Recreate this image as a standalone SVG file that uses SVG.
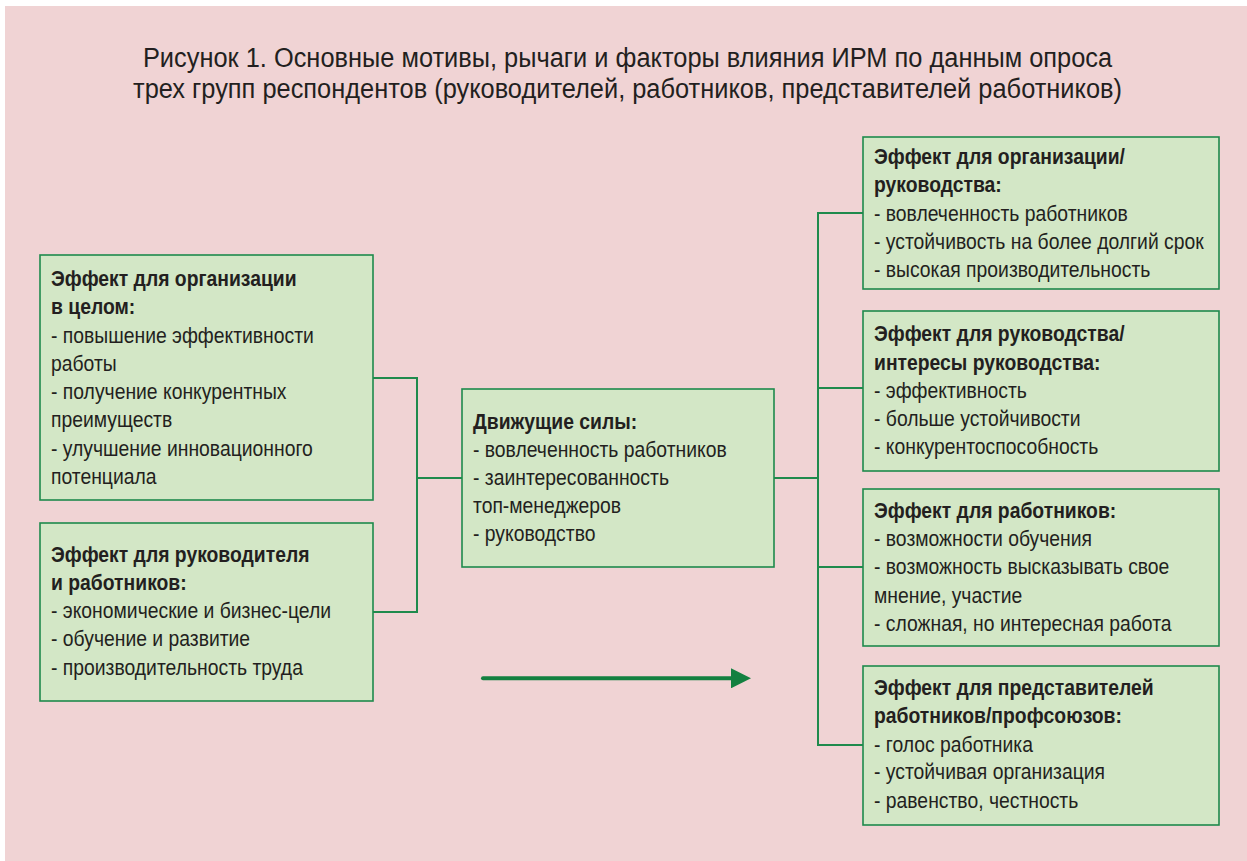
<svg xmlns="http://www.w3.org/2000/svg" width="1247" height="861" viewBox="0 0 1247 861">
<style>
  .bg { fill: #F0D3D4; }
  .box { fill: #D3E7C6; stroke: #1F8A4C; stroke-width: 1.6; }
  .conn { fill: none; stroke: #1F8A4C; stroke-width: 2; }
  text { font-family: "Liberation Sans", Arial, sans-serif; fill: #231F20; }
  .title { font-size: 28px; text-anchor: middle; }
  .t { font-size: 22.5px; }
  .h { font-size: 22.5px; font-weight: bold; }
</style>
<defs>
  <marker id="ah" viewBox="0 0 10 10" refX="0" refY="5" markerWidth="5" markerHeight="5" orient="auto" markerUnits="strokeWidth">
    <path d="M0,0 L10,5 L0,10 Z" fill="#138040"/>
  </marker>
</defs>
<rect width="1247" height="861" fill="#FFFFFF"/>
<rect class="bg" x="5" y="6" width="1242" height="855"/>

<g id="title" transform="translate(627.5,0) scale(0.907,1)">
  <text class="title" x="0" y="67">Рисунок 1. Основные мотивы, рычаги и факторы влияния ИРМ по данным опроса</text>
  <text class="title" x="0" y="98">трех групп респондентов (руководителей, работников, представителей работников)</text>
</g>

<g id="connectors">
  <path class="conn" d="M373,378 H417 V612 H373"/>
  <path class="conn" d="M417,478 H462"/>
  <path class="conn" d="M774,478 H818"/>
  <path class="conn" d="M863,213 H818 V745 H863"/>
  <path class="conn" d="M818,388 H863"/>
  <path class="conn" d="M818,567 H863"/>
  <line x1="483" y1="678.3" x2="731" y2="678.3" stroke="#138040" stroke-width="4" stroke-linecap="round" marker-end="url(#ah)"/>
</g>

<g id="left-org">
  <rect class="box" x="40" y="255" width="333" height="245"/>
  <g transform="translate(51,0) scale(0.86,1)">
    <text class="h" x="0" y="286">Эффект для организации</text>
    <text class="h" x="0" y="314.3">в целом:</text>
    <text class="t" x="0" y="342.6">- повышение эффективности</text>
    <text class="t" x="0" y="370.9">работы</text>
    <text class="t" x="0" y="399.2">- получение конкурентных</text>
    <text class="t" x="0" y="427.5">преимуществ</text>
    <text class="t" x="0" y="455.8">- улучшение инновационного</text>
    <text class="t" x="0" y="484.1">потенциала</text>
  </g>
</g>

<g id="left-mgr">
  <rect class="box" x="40" y="523" width="333" height="178"/>
  <g transform="translate(51,0) scale(0.86,1)">
    <text class="h" x="0" y="562">Эффект для руководителя</text>
    <text class="h" x="0" y="590">и работников:</text>
    <text class="t" x="0" y="618.3">- экономические и бизнес-цели</text>
    <text class="t" x="0" y="646.5">- обучение и развитие</text>
    <text class="t" x="0" y="674.7">- производительность труда</text>
  </g>
</g>

<g id="center">
  <rect class="box" x="462" y="389" width="312" height="178"/>
  <g transform="translate(473,0) scale(0.86,1)">
    <text class="h" x="0" y="429">Движущие силы:</text>
    <text class="t" x="0" y="457">- вовлеченность работников</text>
    <text class="t" x="0" y="485">- заинтересованность</text>
    <text class="t" x="0" y="513">топ-менеджеров</text>
    <text class="t" x="0" y="541.5">- руководство</text>
  </g>
</g>

<g id="right-org">
  <rect class="box" x="863" y="137" width="356" height="152"/>
  <g transform="translate(874,0) scale(0.86,1)">
    <text class="h" x="0" y="164">Эффект для организации/</text>
    <text class="h" x="0" y="192.5">руководства:</text>
    <text class="t" x="0" y="220.7">- вовлеченность работников</text>
    <text class="t" x="0" y="249">- устойчивость на более долгий срок</text>
    <text class="t" x="0" y="277">- высокая производительность</text>
  </g>
</g>

<g id="right-mgmt">
  <rect class="box" x="863" y="311" width="356" height="160"/>
  <g transform="translate(874,0) scale(0.86,1)">
    <text class="h" x="0" y="341.5">Эффект для руководства/</text>
    <text class="h" x="0" y="370">интересы руководства:</text>
    <text class="t" x="0" y="398.3">- эффективность</text>
    <text class="t" x="0" y="426.3">- больше устойчивости</text>
    <text class="t" x="0" y="454.3">- конкурентоспособность</text>
  </g>
</g>

<g id="right-workers">
  <rect class="box" x="863" y="489" width="356" height="157"/>
  <g transform="translate(874,0) scale(0.86,1)">
    <text class="h" x="0" y="517.7">Эффект для работников:</text>
    <text class="t" x="0" y="546">- возможности обучения</text>
    <text class="t" x="0" y="574.3">- возможность высказывать свое</text>
    <text class="t" x="0" y="602.7">мнение, участие</text>
    <text class="t" x="0" y="631">- сложная, но интересная работа</text>
  </g>
</g>

<g id="right-unions">
  <rect class="box" x="863" y="666" width="356" height="159"/>
  <g transform="translate(874,0) scale(0.86,1)">
    <text class="h" x="0" y="695">Эффект для представителей</text>
    <text class="h" x="0" y="723.3">работников/профсоюзов:</text>
    <text class="t" x="0" y="751.7">- голос работника</text>
    <text class="t" x="0" y="779.5">- устойчивая организация</text>
    <text class="t" x="0" y="807.7">- равенство, честность</text>
  </g>
</g>
</svg>
